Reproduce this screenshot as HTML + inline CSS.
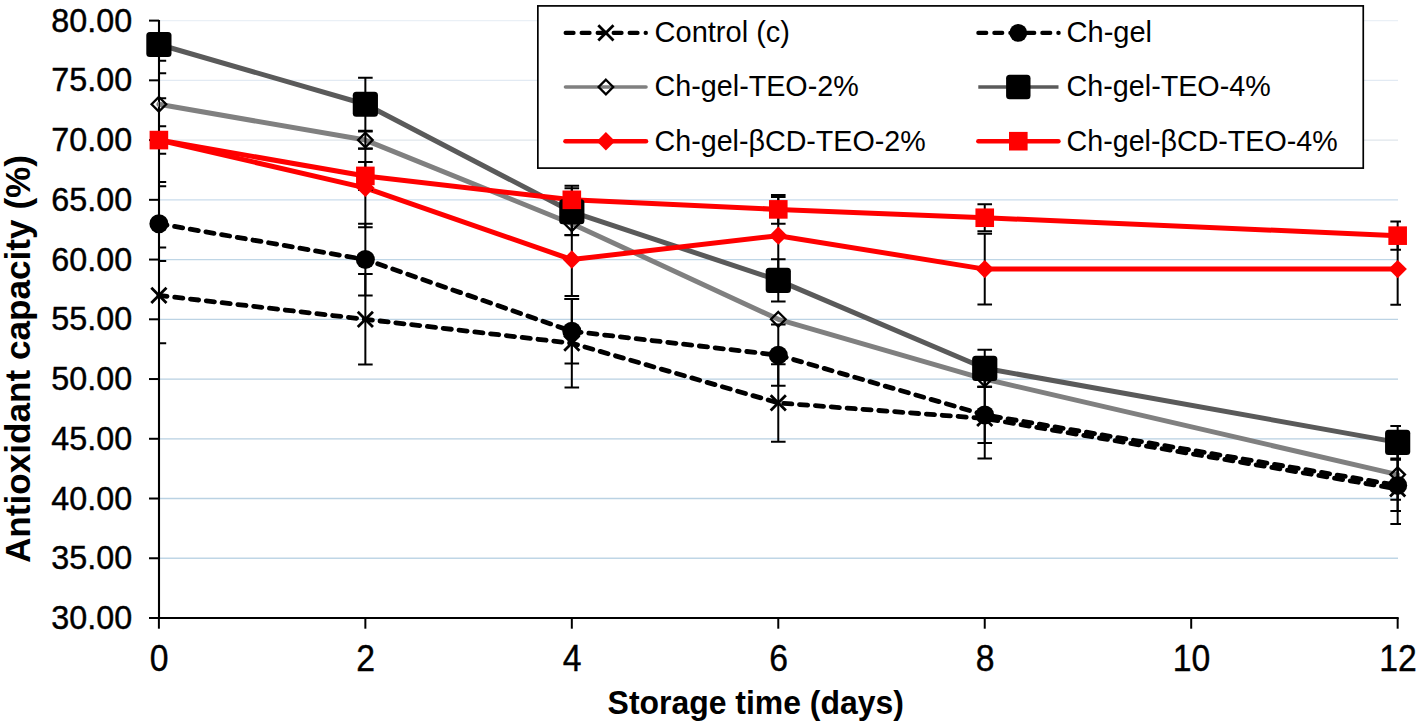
<!DOCTYPE html>
<html><head><meta charset="utf-8"><title>Antioxidant capacity chart</title>
<style>
html,body{margin:0;padding:0;background:#fff;}
body{width:1421px;height:725px;overflow:hidden;}
svg{display:block;font-family:"Liberation Sans",sans-serif;}
</style></head><body>
<svg width="1421" height="725" viewBox="0 0 1421 725">
<rect width="1421" height="725" fill="#fff"/>

<line x1="160" y1="558.26" x2="1398" y2="558.26" stroke="#bfd6e6" stroke-width="1.3"/>
<line x1="160" y1="498.52" x2="1398" y2="498.52" stroke="#bad2e3" stroke-width="1.3"/>
<line x1="160" y1="438.78" x2="1398" y2="438.78" stroke="#b8d0e2" stroke-width="1.3"/>
<line x1="160" y1="379.04" x2="1398" y2="379.04" stroke="#b8d0e2" stroke-width="1.3"/>
<line x1="160" y1="319.3" x2="1398" y2="319.3" stroke="#bcd3e4" stroke-width="1.3"/>
<line x1="160" y1="259.56" x2="1398" y2="259.56" stroke="#bfd6e6" stroke-width="1.3"/>
<line x1="160" y1="199.82" x2="1398" y2="199.82" stroke="#cadcec" stroke-width="1.3"/>
<line x1="160" y1="140.08" x2="1398" y2="140.08" stroke="#dfe6eb" stroke-width="1.3"/>
<line x1="160" y1="80.34" x2="1398" y2="80.34" stroke="#e2eaf3" stroke-width="1.3"/>
<line x1="160" y1="20.6" x2="1398" y2="20.6" stroke="#eaf0f6" stroke-width="1.3"/>
<line x1="159" y1="20" x2="159" y2="619" stroke="#000" stroke-width="2.1"/>
<line x1="158" y1="618" x2="1398.7" y2="618" stroke="#000" stroke-width="2.1"/>
<line x1="149" y1="618" x2="159" y2="618" stroke="#000" stroke-width="2"/>
<line x1="149" y1="558.26" x2="159" y2="558.26" stroke="#000" stroke-width="2"/>
<line x1="149" y1="498.52" x2="159" y2="498.52" stroke="#000" stroke-width="2"/>
<line x1="149" y1="438.78" x2="159" y2="438.78" stroke="#000" stroke-width="2"/>
<line x1="149" y1="379.04" x2="159" y2="379.04" stroke="#000" stroke-width="2"/>
<line x1="149" y1="319.3" x2="159" y2="319.3" stroke="#000" stroke-width="2"/>
<line x1="149" y1="259.56" x2="159" y2="259.56" stroke="#000" stroke-width="2"/>
<line x1="149" y1="199.82" x2="159" y2="199.82" stroke="#000" stroke-width="2"/>
<line x1="149" y1="140.08" x2="159" y2="140.08" stroke="#000" stroke-width="2"/>
<line x1="149" y1="80.34" x2="159" y2="80.34" stroke="#000" stroke-width="2"/>
<line x1="149" y1="20.6" x2="159" y2="20.6" stroke="#000" stroke-width="2"/>
<line x1="158.9" y1="618" x2="158.9" y2="628.7" stroke="#000" stroke-width="2"/>
<line x1="365.36" y1="618" x2="365.36" y2="628.7" stroke="#000" stroke-width="2"/>
<line x1="571.82" y1="618" x2="571.82" y2="628.7" stroke="#000" stroke-width="2"/>
<line x1="778.28" y1="618" x2="778.28" y2="628.7" stroke="#000" stroke-width="2"/>
<line x1="984.74" y1="618" x2="984.74" y2="628.7" stroke="#000" stroke-width="2"/>
<line x1="1191.2" y1="618" x2="1191.2" y2="628.7" stroke="#000" stroke-width="2"/>
<line x1="1397.66" y1="618" x2="1397.66" y2="628.7" stroke="#000" stroke-width="2"/>
<text transform="translate(132.2 629.1) scale(0.95 1)" font-size="34" text-anchor="end" stroke="#000" stroke-width="0.45">30.00</text>
<text transform="translate(132.2 569.36) scale(0.95 1)" font-size="34" text-anchor="end" stroke="#000" stroke-width="0.45">35.00</text>
<text transform="translate(132.2 509.62) scale(0.95 1)" font-size="34" text-anchor="end" stroke="#000" stroke-width="0.45">40.00</text>
<text transform="translate(132.2 449.88) scale(0.95 1)" font-size="34" text-anchor="end" stroke="#000" stroke-width="0.45">45.00</text>
<text transform="translate(132.2 390.14) scale(0.95 1)" font-size="34" text-anchor="end" stroke="#000" stroke-width="0.45">50.00</text>
<text transform="translate(132.2 330.4) scale(0.95 1)" font-size="34" text-anchor="end" stroke="#000" stroke-width="0.45">55.00</text>
<text transform="translate(132.2 270.66) scale(0.95 1)" font-size="34" text-anchor="end" stroke="#000" stroke-width="0.45">60.00</text>
<text transform="translate(132.2 210.92) scale(0.95 1)" font-size="34" text-anchor="end" stroke="#000" stroke-width="0.45">65.00</text>
<text transform="translate(132.2 151.18) scale(0.95 1)" font-size="34" text-anchor="end" stroke="#000" stroke-width="0.45">70.00</text>
<text transform="translate(132.2 91.44) scale(0.95 1)" font-size="34" text-anchor="end" stroke="#000" stroke-width="0.45">75.00</text>
<text transform="translate(132.2 31.7) scale(0.95 1)" font-size="34" text-anchor="end" stroke="#000" stroke-width="0.45">80.00</text>
<text transform="translate(159.2 671.3) scale(0.9 1)" font-size="37.5" text-anchor="middle" stroke="#000" stroke-width="0.4">0</text>
<text transform="translate(365.66 671.3) scale(0.9 1)" font-size="37.5" text-anchor="middle" stroke="#000" stroke-width="0.4">2</text>
<text transform="translate(572.12 671.3) scale(0.9 1)" font-size="37.5" text-anchor="middle" stroke="#000" stroke-width="0.4">4</text>
<text transform="translate(778.58 671.3) scale(0.9 1)" font-size="37.5" text-anchor="middle" stroke="#000" stroke-width="0.4">6</text>
<text transform="translate(985.04 671.3) scale(0.9 1)" font-size="37.5" text-anchor="middle" stroke="#000" stroke-width="0.4">8</text>
<text transform="translate(1191.5 671.3) scale(0.9 1)" font-size="37.5" text-anchor="middle" stroke="#000" stroke-width="0.4">10</text>
<text transform="translate(1397.96 671.3) scale(0.9 1)" font-size="37.5" text-anchor="middle" stroke="#000" stroke-width="0.4">12</text>
<text transform="translate(30.1 359) rotate(-90) scale(1.019 1)" font-size="34.5" font-weight="bold" text-anchor="middle">Antioxidant capacity (%)</text>
<text transform="translate(755.7 713.7) scale(0.953 1)" font-size="33.5" font-weight="bold" text-anchor="middle">Storage time (days)</text>
<defs><clipPath id="pc"><rect x="159" y="20" width="1242" height="600"/></clipPath></defs>
<polyline points="158.9,295.4 365.36,319.3 571.82,343.2 778.28,402.94 984.74,418.47 1397.66,488.96" fill="none" stroke="#000" stroke-width="4.8" stroke-dasharray="8.2 7.7" stroke-linecap="round" stroke-linejoin="round"/>
<polyline points="158.9,223.72 365.36,259.56 571.82,331.25 778.28,355.14 984.74,414.88 1397.66,485.38" fill="none" stroke="#000" stroke-width="4.8" stroke-dasharray="8.2 7.7" stroke-linecap="round" stroke-linejoin="round"/>
<polyline points="158.9,104.24 365.36,140.08 571.82,223.72 778.28,319.3 984.74,379.04 1397.66,474.62" fill="none" stroke="#808080" stroke-width="5.0" stroke-linecap="round" stroke-linejoin="round"/>
<polyline points="158.9,44.5 365.36,104.24 571.82,211.77 778.28,280.35 984.74,368.29 1397.66,442.36" fill="none" stroke="#5a5a5a" stroke-width="5.0" stroke-linejoin="round"/>
<polyline points="158.9,140.08 365.36,187.87 571.82,259.56 778.28,235.66 984.74,269.12 1397.66,269.12" fill="none" stroke="#f00" stroke-width="5.0" stroke-linecap="round" stroke-linejoin="round"/>
<polyline points="158.9,140.08 365.36,175.92 571.82,199.82 778.28,209.38 984.74,217.74 1397.66,235.66" fill="none" stroke="#f00" stroke-width="5.0" stroke-linecap="round" stroke-linejoin="round"/>
<path clip-path="url(#pc)" d="M158.9 247.61V343.2M151.6 247.61H166.2M151.6 343.2H166.2M365.36 274.02V364.58M358.06 274.02H372.66M358.06 364.58H372.66M571.82 298.99V387.4M564.52 298.99H579.12M564.52 387.4H579.12M778.28 364.22V441.65M770.98 364.22H785.58M770.98 441.65H785.58M984.74 378.44V458.49M977.44 378.44H992.04M977.44 458.49H992.04M1397.66 453.95V523.97M1390.36 453.95H1404.96M1390.36 523.97H1404.96" stroke="#000" stroke-width="2" fill="none"/>
<path clip-path="url(#pc)" d="M158.9 186.32V261.11M151.6 186.32H166.2M151.6 261.11H166.2M365.36 223.72V295.4M358.06 223.72H372.66M358.06 295.4H372.66M571.82 298.99V363.51M564.52 298.99H579.12M564.52 363.51H579.12M778.28 324.56V385.73M770.98 324.56H785.58M770.98 385.73H785.58M984.74 386.69V443.08M977.44 386.69H992.04M977.44 443.08H992.04M1397.66 459.69V511.07M1390.36 459.69H1404.96M1390.36 511.07H1404.96" stroke="#000" stroke-width="2" fill="none"/>
<path clip-path="url(#pc)" d="M158.9 60.63V147.85M151.6 60.63H166.2M151.6 147.85H166.2M365.36 131.48V148.68M358.06 131.48H372.66M358.06 148.68H372.66M571.82 212.37V235.07M564.52 212.37H579.12M564.52 235.07H579.12M984.74 371.39V386.69M977.44 371.39H992.04M977.44 386.69H992.04M1397.66 449.53V499.71M1390.36 449.53H1404.96M1390.36 499.71H1404.96" stroke="#000" stroke-width="2" fill="none"/>
<path clip-path="url(#pc)" d="M158.9 15.82V73.17M151.6 15.82H166.2M151.6 73.17H166.2M365.36 77.71V130.76M358.06 77.71H372.66M358.06 130.76H372.66M571.82 188.23V235.31M564.52 188.23H579.12M564.52 235.31H579.12M778.28 259.32V301.38M770.98 259.32H785.58M770.98 301.38H785.58M984.74 349.65V386.93M977.44 349.65H992.04M977.44 386.93H992.04M1397.66 426.12V458.61M1390.36 426.12H1404.96M1390.36 458.61H1404.96" stroke="#000" stroke-width="2" fill="none"/>
<path clip-path="url(#pc)" d="M158.9 98.26V181.9M151.6 98.26H166.2M151.6 181.9H166.2M365.36 148.44V227.3M358.06 148.44H372.66M358.06 227.3H372.66M571.82 223.24V295.88M564.52 223.24H579.12M564.52 295.88H579.12M778.28 197.07V274.26M770.98 197.07H785.58M770.98 274.26H785.58M984.74 233.63V304.6M977.44 233.63H992.04M977.44 304.6H992.04M1397.66 233.51V304.72M1390.36 233.51H1404.96M1390.36 304.72H1404.96" stroke="#000" stroke-width="2" fill="none"/>
<path clip-path="url(#pc)" d="M158.9 126.34V153.82M151.6 126.34H166.2M151.6 153.82H166.2M365.36 161.94V189.9M358.06 161.94H372.66M358.06 189.9H372.66M571.82 185.84V213.8M564.52 185.84H579.12M564.52 213.8H579.12M778.28 195.04V223.72M770.98 195.04H785.58M770.98 223.72H785.58M984.74 204.24V231.24M977.44 204.24H992.04M977.44 231.24H992.04M1397.66 221.57V249.76M1390.36 221.57H1404.96M1390.36 249.76H1404.96" stroke="#000" stroke-width="2" fill="none"/>
<path d="M151.3 287.8L166.5 303M151.3 303L166.5 287.8" stroke="#000" stroke-width="2.8" fill="none"/>
<path d="M357.76 311.7L372.96 326.9M357.76 326.9L372.96 311.7" stroke="#000" stroke-width="2.8" fill="none"/>
<path d="M564.22 335.6L579.42 350.8M564.22 350.8L579.42 335.6" stroke="#000" stroke-width="2.8" fill="none"/>
<path d="M770.68 395.34L785.88 410.54M770.68 410.54L785.88 395.34" stroke="#000" stroke-width="2.8" fill="none"/>
<path d="M977.14 410.87L992.34 426.07M977.14 426.07L992.34 410.87" stroke="#000" stroke-width="2.8" fill="none"/>
<path d="M1390.06 481.36L1405.26 496.56M1390.06 496.56L1405.26 481.36" stroke="#000" stroke-width="2.8" fill="none"/>
<circle cx="158.9" cy="223.72" r="9.5" fill="#000"/>
<circle cx="365.36" cy="259.56" r="9.5" fill="#000"/>
<circle cx="571.82" cy="331.25" r="9.5" fill="#000"/>
<circle cx="778.28" cy="355.14" r="9.5" fill="#000"/>
<circle cx="984.74" cy="414.88" r="9.5" fill="#000"/>
<circle cx="1397.66" cy="485.38" r="9.5" fill="#000"/>
<path d="M158.9 96.94L166.2 104.24L158.9 111.54L151.6 104.24Z" stroke="#000" stroke-width="2.3" fill="none"/>
<path d="M365.36 132.78L372.66 140.08L365.36 147.38L358.06 140.08Z" stroke="#000" stroke-width="2.3" fill="none"/>
<path d="M571.82 216.42L579.12 223.72L571.82 231.02L564.52 223.72Z" stroke="#000" stroke-width="2.3" fill="none"/>
<path d="M778.28 312L785.58 319.3L778.28 326.6L770.98 319.3Z" stroke="#000" stroke-width="2.3" fill="none"/>
<path d="M984.74 371.74L992.04 379.04L984.74 386.34L977.44 379.04Z" stroke="#000" stroke-width="2.3" fill="none"/>
<path d="M1397.66 467.32L1404.96 474.62L1397.66 481.92L1390.36 474.62Z" stroke="#000" stroke-width="2.3" fill="none"/>
<rect x="146.3" y="31.9" width="25.2" height="25.2" rx="3.5" fill="#000"/>
<rect x="352.76" y="91.64" width="25.2" height="25.2" rx="3.5" fill="#000"/>
<rect x="559.22" y="199.17" width="25.2" height="25.2" rx="3.5" fill="#000"/>
<rect x="765.68" y="267.75" width="25.2" height="25.2" rx="3.5" fill="#000"/>
<rect x="972.14" y="355.69" width="25.2" height="25.2" rx="3.5" fill="#000"/>
<rect x="1385.06" y="429.76" width="25.2" height="25.2" rx="3.5" fill="#000"/>
<path d="M158.9 130.88L168.1 140.08L158.9 149.28L149.7 140.08Z" fill="#f00"/>
<path d="M365.36 178.67L374.56 187.87L365.36 197.07L356.16 187.87Z" fill="#f00"/>
<path d="M571.82 250.36L581.02 259.56L571.82 268.76L562.62 259.56Z" fill="#f00"/>
<path d="M778.28 226.46L787.48 235.66L778.28 244.86L769.08 235.66Z" fill="#f00"/>
<path d="M984.74 259.92L993.94 269.12L984.74 278.32L975.54 269.12Z" fill="#f00"/>
<path d="M1397.66 259.92L1406.86 269.12L1397.66 278.32L1388.46 269.12Z" fill="#f00"/>
<rect x="149.6" y="130.78" width="18.6" height="18.6" fill="#f00"/>
<rect x="356.06" y="166.62" width="18.6" height="18.6" fill="#f00"/>
<rect x="562.52" y="190.52" width="18.6" height="18.6" fill="#f00"/>
<rect x="768.98" y="200.08" width="18.6" height="18.6" fill="#f00"/>
<rect x="975.44" y="208.44" width="18.6" height="18.6" fill="#f00"/>
<rect x="1388.36" y="226.36" width="18.6" height="18.6" fill="#f00"/>
<rect x="537.85" y="5.9" width="825.4" height="162.2" fill="#fff" stroke="#000" stroke-width="1.7"/>
<line x1="565.6" y1="32.9" x2="645.9" y2="32.9" stroke="#000" stroke-width="4.1" stroke-dasharray="8 8" stroke-linecap="round"/>
<path d="M598.3 25.3L613.5 40.5M598.3 40.5L613.5 25.3" stroke="#000" stroke-width="2.8" fill="none"/>
<text transform="translate(654.6 42.0) scale(1.0 1)" font-size="29">Control (c)</text>
<line x1="978.3" y1="32.9" x2="1058.7" y2="32.9" stroke="#000" stroke-width="4.1" stroke-dasharray="8 8" stroke-linecap="round"/>
<circle cx="1018.3" cy="32.9" r="8.9" fill="#000"/>
<text transform="translate(1066.6 42.0) scale(1.0 1)" font-size="29">Ch-gel</text>
<line x1="565.5" y1="87" x2="646" y2="87" stroke="#808080" stroke-width="3.6" stroke-linecap="round"/>
<path d="M605.9 79.7L613.2 87L605.9 94.3L598.6 87Z" stroke="#000" stroke-width="2.3" fill="none"/>
<text transform="translate(654.6 96.4) scale(0.99 1)" font-size="29">Ch-gel-TEO-2%</text>
<line x1="978.3" y1="87" x2="1058.5" y2="87" stroke="#5a5a5a" stroke-width="3.6"/>
<rect x="1006.1" y="74.8" width="24.4" height="24.4" rx="3.5" fill="#000"/>
<text transform="translate(1066.6 96.4) scale(0.99 1)" font-size="29">Ch-gel-TEO-4%</text>
<line x1="565.5" y1="141.2" x2="646" y2="141.2" stroke="#f00" stroke-width="4.6" stroke-linecap="round"/>
<path d="M605.9 132L615.1 141.2L605.9 150.4L596.7 141.2Z" fill="#f00"/>
<text transform="translate(654.6 150.8) scale(0.988 1)" font-size="29">Ch-gel-βCD-TEO-2%</text>
<line x1="978.4" y1="141.2" x2="1058.4" y2="141.2" stroke="#f00" stroke-width="4.6" stroke-linecap="round"/>
<rect x="1009" y="131.9" width="18.6" height="18.6" fill="#f00"/>
<text transform="translate(1066.6 150.8) scale(0.988 1)" font-size="29">Ch-gel-βCD-TEO-4%</text>
</svg>
</body></html>
